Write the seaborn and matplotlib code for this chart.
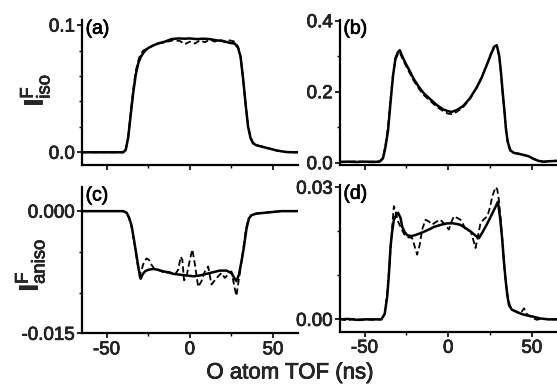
import numpy as np
import pandas as pd
import matplotlib
matplotlib.use("Agg")
import matplotlib.pyplot as plt
import matplotlib.patheffects as pe
from matplotlib.ticker import MultipleLocator, FixedLocator, FixedFormatter
import seaborn as sns

# ---------------- data ----------------
# Panel (a): I^F_iso, isotropic
a_x_solid = [-65, -55, -45, -40, -38.5, -37, -35.5, -34, -32.5, -31, -29.5, -27.5, -25, -22, -19, -15, -11,
             -7, -3, 0, 4, 8, 12, 16, 20, 24, 27, 29, 30.5, 32, 33.5, 35, 36.5, 38, 40, 43, 46, 49, 52, 55,
             58, 62, 65]
a_y_solid = [0, 0, 0, 0, 0.002, 0.012, 0.030, 0.047, 0.061, 0.070, 0.075, 0.079, 0.082, 0.084, 0.0856, 0.087,
             0.089, 0.0895, 0.0893, 0.0895, 0.0890, 0.0893, 0.089, 0.088, 0.0875, 0.086, 0.0855, 0.082, 0.075,
             0.058, 0.038, 0.020, 0.011, 0.007, 0.0055, 0.0045, 0.0035, 0.0025, 0.0015, 0.0008, 0.0002, 0, 0]
a_x_dash = [-65, -55, -45, -40, -38.5, -37, -35.5, -34, -32.5, -31, -30, -28, -25, -22, -19, -15, -10, -6,
            -3, 0, 3, 6, 9, 12, 15, 18, 21, 24, 27, 29, 30.5, 32, 33.5, 35, 36.5, 38, 40, 43, 46, 49, 52, 55,
            58, 62, 65]
a_y_dash = [0, 0, 0, 0, 0.002, 0.013, 0.032, 0.050, 0.064, 0.072, 0.076, 0.080, 0.082, 0.084, 0.0855, 0.0865,
            0.088, 0.0875, 0.085, 0.087, 0.0855, 0.088, 0.0865, 0.0885, 0.087, 0.0885, 0.0865, 0.088, 0.087,
            0.083, 0.075, 0.058, 0.038, 0.021, 0.012, 0.0075, 0.0055, 0.0048, 0.0033, 0.0027, 0.0013, 0.001,
            0.0002, 0, 0]

# Panel (b): I^F_iso
b_x_solid = [-65, -60, -55, -50, -45, -41, -39, -37.5, -36, -34.5, -33, -31.5, -30, -29, -27.5, -25.5, -23,
             -20.5, -17.5, -14.5, -11, -7, -3, 0, 2, 5, 9, 13, 17, 20, 23, 25.5, 27.5, 29, 30.5, 31.5, 32.5,
             33.5, 34.5, 35.5, 37, 39, 42, 45, 48, 51, 54, 57, 60, 65]
b_y_solid = [0.002, 0.003, 0.002, 0.003, 0.002, 0.003, 0.012, 0.045, 0.09, 0.17, 0.245, 0.295, 0.312, 0.317,
             0.300, 0.280, 0.258, 0.235, 0.213, 0.195, 0.180, 0.163, 0.150, 0.145, 0.143, 0.148, 0.160, 0.182,
             0.212, 0.240, 0.275, 0.305, 0.327, 0.331, 0.300, 0.255, 0.200, 0.150, 0.095, 0.060, 0.036, 0.028,
             0.025, 0.022, 0.018, 0.011, 0.005, 0.003, 0.004, 0.005]
b_x_dash = [-65, -60, -55, -50, -45, -41, -39, -37.5, -36, -34.5, -33, -31.5, -30, -29, -27.5, -25.5, -23,
            -20.5, -17.5, -14.5, -11, -7, -3, 0, 2, 5, 9, 13, 17, 20, 23, 25.5, 27.5, 29, 30.5, 31.5, 32.5,
            33.5, 34.5, 35.5, 37, 39, 42, 45, 48, 51, 54, 57, 60, 65]
b_y_dash = [0.003, 0.002, 0.004, 0.002, 0.003, 0.004, 0.014, 0.050, 0.10, 0.18, 0.250, 0.292, 0.306, 0.310,
            0.295, 0.275, 0.252, 0.230, 0.208, 0.190, 0.175, 0.158, 0.145, 0.138, 0.137, 0.143, 0.157, 0.180,
            0.211, 0.240, 0.276, 0.307, 0.328, 0.330, 0.298, 0.252, 0.196, 0.147, 0.093, 0.058, 0.034, 0.027,
            0.026, 0.021, 0.019, 0.010, 0.006, 0.002, 0.004, 0.006]

# Panel (c): I^F_aniso
c_x_solid = [-65, -55, -45, -40, -38, -36.5, -35, -33.5, -32, -31, -30, -29.5, -28.5, -27, -25, -22, -19, -16,
             -13, -10, -6, -2, 2, 6, 10, 14, 18, 22, 25, 27, 28, 29.5, 31, 32.5, 34, 35.5, 37, 40, 45, 50, 55, 65]
c_y_solid = [0, 0, 0, 0, -0.0002, -0.0008, -0.0018, -0.0036, -0.0055, -0.0068, -0.0080, -0.0083, -0.0078,
             -0.0074, -0.0072, -0.0071, -0.0072, -0.0074, -0.0075, -0.0077, -0.0078, -0.0079, -0.0080, -0.0079,
             -0.0077, -0.0075, -0.0073, -0.0073, -0.0076, -0.0083, -0.0086, -0.0078, -0.0062, -0.0044, -0.0022,
             -0.0009, -0.0005, -0.0003, -0.0002, -0.0001, 0, 0]
c_x_dash = [-65, -55, -45, -40, -38, -36.5, -35, -33.5, -32, -31, -30, -29, -27.5, -26, -24.5, -23, -21, -18,
            -15, -12, -9, -7, -5.5, -4.5, -3.5, -2, 0, 1.5, 3, 5, 7, 9, 11, 13, 15, 17, 19, 21, 23, 25, 27, 28,
            29, 30.5, 32, 33.5, 35, 37, 40, 45, 50, 55, 65]
c_y_dash = [0, 0, 0, 0, -0.0002, -0.0009, -0.0020, -0.0038, -0.0058, -0.0070, -0.0078, -0.0072, -0.0062,
            -0.0058, -0.0060, -0.0066, -0.0072, -0.0073, -0.0076, -0.0075, -0.0078, -0.0072, -0.0056, -0.0060,
            -0.0085, -0.0080, -0.0060, -0.0047, -0.0065, -0.0093, -0.0086, -0.0074, -0.0068, -0.0090, -0.0085,
            -0.0080, -0.0076, -0.0082, -0.0078, -0.0074, -0.0095, -0.0104, -0.0090, -0.0070, -0.0048, -0.0025,
            -0.0010, -0.0005, -0.0003, -0.0002, -0.0001, 0, 0]

# Panel (d): I^F_aniso
d_x_solid = [-65, -60, -55, -50, -45, -40, -38, -36.5, -35.5, -34.5, -33.5, -32.5, -31, -30, -28.5, -27.5, -26,
             -24.5, -22, -20, -17, -14.5, -11, -8.5, -4, -0.5, 3, 7, 10, 13.5, 16, 18.3, 20.5, 23.4, 25.5, 27.3,
             29.7, 31, 32.3, 33.3, 34.3, 35.3, 36.3, 38, 41, 44, 47, 51, 55, 60, 65]
d_y_solid = [0, 0.0001, -0.0001, 0, 0, 0, 0.0012, 0.0051, 0.010, 0.0165, 0.020, 0.0226, 0.0238, 0.0242,
             0.0230, 0.0210, 0.0198, 0.0191, 0.0189, 0.0191, 0.0195, 0.0199, 0.0205, 0.0210, 0.0215, 0.0218,
             0.0218, 0.0215, 0.0208, 0.0199, 0.0191, 0.0184, 0.0198, 0.0218, 0.0234, 0.0248, 0.0267, 0.0230,
             0.0180, 0.0130, 0.0089, 0.0055, 0.0032, 0.0022, 0.0017, 0.0012, 0.0009, 0.0006, 0.0002, 0, 0]
d_x_dash = [-65, -60, -57, -53, -49, -45, -40, -38, -36.5, -35, -33.5, -32.5, -31.5, -30, -28.6, -27, -25.6,
            -23.5, -21.6, -20, -18.6, -17, -15.6, -13.6, -11.5, -9.6, -7, -4.6, -2, 0.4, 2, 3.4, 5.5, 7.4, 9,
            10.4, 13.4, 15, 16.3, 17.8, 19.3, 21.5, 23.4, 25, 26.3, 28.3, 29.3, 30.3, 31.5, 32.5, 33.5, 34.5,
            35.5, 37, 39, 42, 44, 45.3, 47, 50, 53, 56, 60, 65]
d_y_dash = [0, -0.0002, 0.0001, -0.0002, 0, -0.0001, 0, 0.0012, 0.0060, 0.013, 0.021, 0.0257, 0.0245, 0.0222,
            0.0211, 0.0198, 0.0189, 0.0186, 0.0185, 0.0165, 0.0147, 0.0170, 0.0204, 0.0226, 0.0222, 0.0215,
            0.0222, 0.0226, 0.0215, 0.0204, 0.0222, 0.0234, 0.0230, 0.0226, 0.0215, 0.0204, 0.0200, 0.0180,
            0.0162, 0.0190, 0.0219, 0.0228, 0.0234, 0.0255, 0.0279, 0.0300, 0.0295, 0.0270, 0.0220, 0.0170,
            0.0120, 0.0080, 0.0052, 0.0030, 0.0020, 0.0014, 0.0018, 0.0025, 0.0012, 0.0004, -0.0001, 0.0002,
            0, 0]

# ticks / labels
x_major = [-50, 0, 50]
x_labels = ["-50", "0", "50"]
a_yticks, a_ylabels = [0.0, 0.1], ["0.0", "0.1"]
b_yticks, b_ylabels = [0.0, 0.2, 0.4], ["0.0", "0.2", "0.4"]
c_yticks, c_ylabels = [-0.015, 0.0], ["-0.015", "0.000"]
d_yticks, d_ylabels = [0.0, 0.03], ["0.00", "0.03"]
panel_tags = ["(a)", "(b)", "(c)", "(d)"]
xlabel_text = "O atom TOF (ns)"

# ---------------- styling ----------------
sns.set_style("ticks")
plt.rcParams["font.family"] = ["Liberation Sans", "DejaVu Sans"]
plt.rcParams["mathtext.fontset"] = "custom"
plt.rcParams["mathtext.rm"] = "Liberation Sans"
plt.rcParams["mathtext.it"] = "Liberation Sans"
plt.rcParams["mathtext.bf"] = "Liberation Sans:bold"

W, H = 557, 387
fig = plt.figure(figsize=(W / 100, H / 100), dpi=100)
heavy = [pe.withStroke(linewidth=0.5, foreground="black")]


def px_axes(x0, x1, ytop, ybot):
    return fig.add_axes([x0 / W, 1 - ybot / H, (x1 - x0) / W, (ybot - ytop) / H])


ax_a = px_axes(81.7, 298, 20, 165)
ax_b = px_axes(339.5, 557, 20, 165)
ax_c = px_axes(81.7, 298, 186.7, 333.3)
ax_d = px_axes(339.5, 557, 185, 331.7)

panels = [
    (ax_a, a_x_solid, a_y_solid, a_x_dash, a_y_dash, a_yticks, a_ylabels, (-0.0100, 0.104), 0.02),
    (ax_b, b_x_solid, b_y_solid, b_x_dash, b_y_dash, b_yticks, b_ylabels, (-0.0065, 0.402), 0.1),
    (ax_c, c_x_solid, c_y_solid, c_x_dash, c_y_dash, c_yticks, c_ylabels, (-0.015, 0.003), 0.005),
    (ax_d, d_x_solid, d_y_solid, d_x_dash, d_y_dash, d_yticks, d_ylabels, (-0.0028, 0.0305), 0.01),
]

for i, (ax, xs, ys, xd, yd, yt, yl, ylim, ymin) in enumerate(panels):
    df_s = pd.DataFrame({"t": xs, "v": ys})
    df_d = pd.DataFrame({"t": xd, "v": yd})
    sns.lineplot(data=df_d, x="t", y="v", ax=ax, color="black", lw=1.3,
                 linestyle=(0, (3.5, 1.8)), estimator=None, sort=False)
    sns.lineplot(data=df_s, x="t", y="v", ax=ax, color="black", lw=1.8,
                 estimator=None, sort=False)
    ax.set_xlim(-65, 65)
    ax.set_ylim(*ylim)
    ax.set_xlabel("")
    ax.set_ylabel("")
    for s in ["top", "right"]:
        ax.spines[s].set_visible(False)
    for s in ["left", "bottom"]:
        ax.spines[s].set_linewidth(1.6)
        ax.spines[s].set_color("black")
    ax.xaxis.set_major_locator(FixedLocator(x_major))
    ax.xaxis.set_minor_locator(MultipleLocator(25))
    ax.yaxis.set_major_locator(FixedLocator(yt))
    ax.yaxis.set_major_formatter(FixedFormatter(yl))
    ax.yaxis.set_minor_locator(MultipleLocator(ymin))
    ax.tick_params(which="major", direction="out", length=3.8, width=1.2, color="black",
                   labelsize=13.5, pad=1.0)
    ax.tick_params(which="minor", direction="out", length=2.2, width=1.0, color="black")
    ax.tick_params(axis="x", which="major", pad=2.0)
    if i < 2:
        ax.xaxis.set_major_formatter(FixedFormatter(["", "", ""]))
    else:
        ax.xaxis.set_major_formatter(FixedFormatter(x_labels))
    for lab in ax.get_xticklabels() + ax.get_yticklabels():
        lab.set_path_effects(heavy)
    ax.text(0.018, 0.995, panel_tags[i], transform=ax.transAxes, ha="left", va="top",
            fontsize=14, color="black", path_effects=heavy)
    ax.set_facecolor("white")

fig.text(35 / W, 1 - 90 / H, r"$\mathbf{I}^{\mathrm{F}}_{\mathrm{iso}}$", rotation=90,
         ha="center", va="center", fontsize=19, path_effects=heavy)
fig.text(30 / W, 1 - 265 / H, r"$\mathbf{I}^{\mathrm{F}}_{\mathrm{aniso}}$", rotation=90,
         ha="center", va="center", fontsize=19, path_effects=heavy)
fig.text(290 / W, 1 - 373 / H, xlabel_text, ha="center", va="center", fontsize=16,
         path_effects=heavy)

fig.savefig("out.png", dpi=100, facecolor="white")
